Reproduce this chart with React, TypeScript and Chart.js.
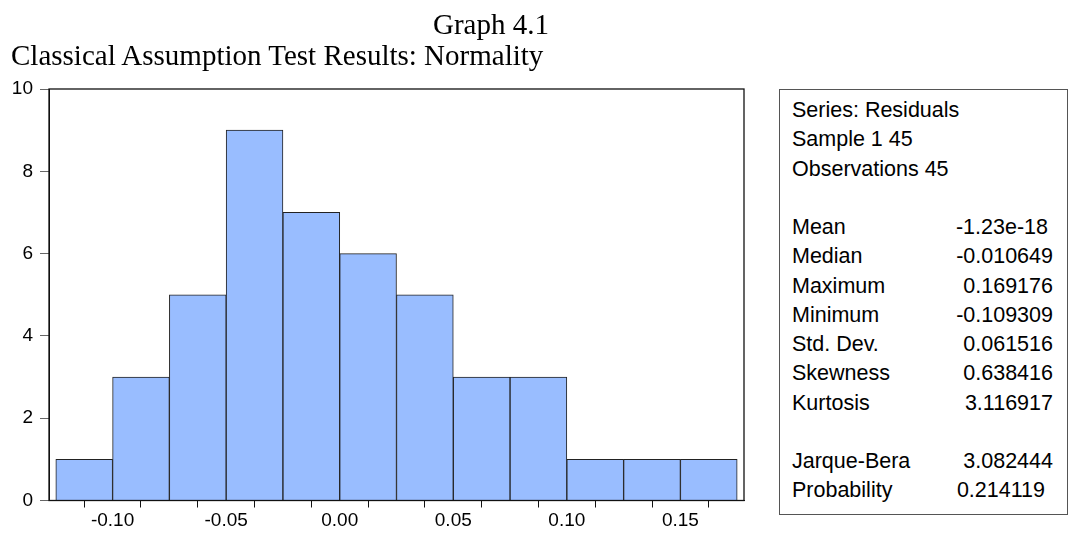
import React, { useEffect, useRef } from "react";
import { Chart, registerables } from "chart.js";

Chart.register(...registerables);

const binCenters = [-0.1125, -0.0875, -0.0625, -0.0375, -0.0125, 0.0125, 0.0375, 0.0625, 0.0875, 0.1125, 0.1375, 0.1625];
const counts = [1, 3, 5, 9, 7, 6, 5, 3, 3, 1, 1, 1];
const xTickValues = [-0.125, -0.1, -0.075, -0.05, -0.025, 0, 0.025, 0.05, 0.075, 0.1, 0.125, 0.15, 0.175];
const xLabelStep = 0.05;
const yTickValues = [0, 2, 4, 6, 8, 10];

const titleText = "Graph 4.1";
const subtitleText = "Classical Assumption Test Results: Normality";

const headerLines = ["Series: Residuals", "Sample 1 45", "Observations 45"];
const statLabels = ["Mean", "Median", "Maximum", "Minimum", "Std. Dev.", "Skewness", "Kurtosis"];
const statValues = ["-1.23e-18", "-0.010649", "0.169176", "-0.109309", "0.061516", "0.638416", "3.116917"];
const testLabels = ["Jarque-Bera", "Probability"];
const testValues = ["3.082444", "0.214119"];

const SANS = 'Arial, "Liberation Sans", sans-serif';
const SERIF = '"Times New Roman", "Liberation Serif", serif';

const framePlugin = {
  id: "frame",
  afterDraw(chart: any) {
    const { ctx, chartArea } = chart;
    ctx.save();
    ctx.strokeStyle = "#111";
    ctx.lineWidth = 1.3;
    ctx.strokeRect(chartArea.left, chartArea.top, chartArea.right - chartArea.left, chartArea.bottom - chartArea.top);
    ctx.restore();
  },
};

function HistogramChart() {
  const ref = useRef<HTMLCanvasElement | null>(null);
  useEffect(() => {
    if (!ref.current) return;
    const chart = new Chart(ref.current, {
      type: "bar",
      data: {
        datasets: [
          {
            data: binCenters.map((x, i) => ({ x, y: counts[i] })),
            backgroundColor: "#99bdff",
            borderColor: "#222",
            borderWidth: 1,
            barPercentage: 1,
            categoryPercentage: 1,
          },
        ],
      },
      plugins: [framePlugin],
      options: {
        animation: false,
        responsive: false,
        layout: { padding: { left: 0, top: 89, right: 16, bottom: 0 } },
        plugins: { legend: { display: false }, tooltip: { enabled: false } },
        scales: {
          x: {
            type: "linear",
            offset: false,
            min: -0.128,
            max: 0.178,
            afterBuildTicks: (scale: any) => {
              scale.ticks = xTickValues.map((v) => ({ value: v }));
            },
            afterFit: (scale: any) => {
              scale.height = 33.5;
            },
            ticks: {
              autoSkip: false,
              maxRotation: 0,
              padding: 2,
              color: "#000",
              font: { family: SANS, size: 19 },
              callback: (value: any) => {
                const k = Math.round(Number(value) / xLabelStep * 2);
                return k % 2 === 0 ? Number(value).toFixed(2) : "";
              },
            },
            grid: { drawOnChartArea: false, drawTicks: true, tickLength: 7, color: "#111", lineWidth: 1 },
            border: { display: true, color: "#111" },
          },
          y: {
            min: 0,
            max: 10,
            afterBuildTicks: (scale: any) => {
              scale.ticks = yTickValues.map((v) => ({ value: v }));
            },
            afterFit: (scale: any) => {
              scale.width = 49;
            },
            ticks: {
              padding: 7,
              color: "#000",
              font: { family: SANS, size: 19 },
            },
            grid: { drawOnChartArea: false, drawTicks: true, tickLength: 9, color: "#666", lineWidth: 1 },
            border: { display: true, color: "#111" },
          },
        },
      },
    } as any);
    return () => chart.destroy();
  }, []);
  return <canvas ref={ref} width={760} height={534} style={{ position: "absolute", left: 0, top: 0, width: 760, height: 534 }} />;
}

const valueOffsets: Record<string, number> = { Mean: 5, Probability: 8 };

function StatsBox() {
  const row = (label: string, value: string | null, key: string) => (
    <div key={key} style={{ position: "relative", height: 29.25 }}>
      <span style={{ position: "absolute", left: 0 }}>{label}</span>
      {value !== null && (
        <span style={{ position: "absolute", right: valueOffsets[label] || 0 }}>{value}</span>
      )}
    </div>
  );
  const rows: any[] = [];
  headerLines.forEach((h, i) => rows.push(row(h, null, "h" + i)));
  rows.push(row("", null, "b1"));
  statLabels.forEach((l, i) => rows.push(row(l, statValues[i], "s" + i)));
  rows.push(row("", null, "b2"));
  testLabels.forEach((l, i) => rows.push(row(l, testValues[i], "t" + i)));
  return (
    <div
      style={{
        position: "absolute",
        left: 779,
        top: 89,
        width: 289,
        height: 426,
        border: "1px solid #555",
        boxSizing: "border-box",
        fontFamily: SANS,
        fontSize: 21.5,
        lineHeight: "29.25px",
        color: "#000",
        padding: "6px 14px 0 12px",
        whiteSpace: "nowrap",
      }}
    >
      {rows}
    </div>
  );
}

export default function App() {
  return (
    <div style={{ position: "fixed", left: 0, top: 0, width: 1069, height: 534, background: "#fff", overflow: "hidden" }}>
      <HistogramChart />
      <div style={{ position: "absolute", left: 433, top: 10, fontFamily: SERIF, fontSize: 29, lineHeight: "29px", color: "#000", whiteSpace: "nowrap" }}>
        {titleText}
      </div>
      <div style={{ position: "absolute", left: 11, top: 41, fontFamily: SERIF, fontSize: 29, lineHeight: "29px", color: "#000", whiteSpace: "nowrap" }}>
        {subtitleText}
      </div>
      <StatsBox />
    </div>
  );
}
